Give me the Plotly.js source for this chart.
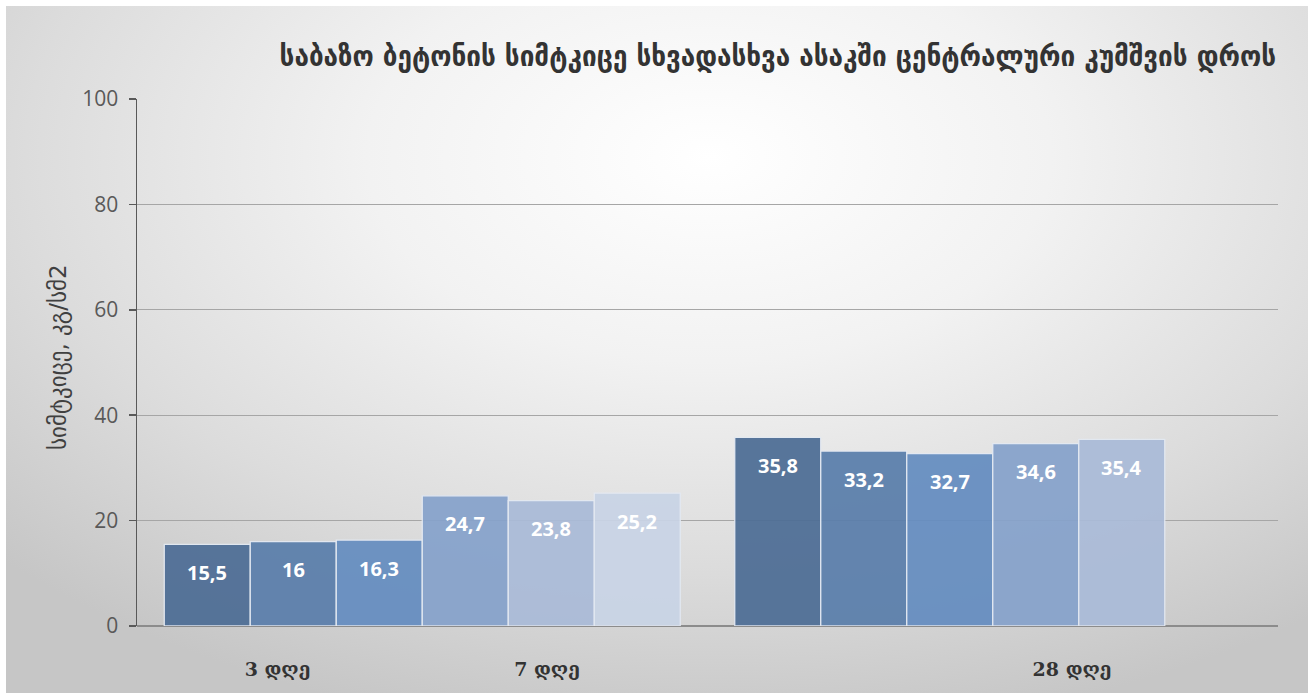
<!DOCTYPE html>
<html>
<head>
<meta charset="utf-8">
<script src="https://cdn.plot.ly/plotly-3.0.1.min.js"></script>
<style>
  html, body { margin: 0; padding: 0; background: #ffffff; }
  #bg {
    position: absolute; left: 6px; top: 6px; width: 1302px; height: 687px;
    background: radial-gradient(ellipse 75% 85% at 54% 22%, #ffffff 0%, #f2f2f2 35%, #dcdcdc 70%, #c6c6c6 100%);
  }
  #chart { position: absolute; left: 0; top: 0; width: 1314px; height: 693px; }
</style>
</head>
<body>
<div id="bg"></div>
<div id="chart"></div>
<script>
// Data
const groups = [0, 1];
const series1 = [15.5, 35.8];
const series2 = [16, 33.2];
const series3 = [16.3, 32.7];
const series4 = [24.7, 34.6];
const series5 = [23.8, 35.4];
const series6 = [25.2, null];
const allSeries = [series1, series2, series3, series4, series5, series6];
const seriesColors = ['#4d6d95', '#5a7eab', '#658dc0', '#86a2cb', '#aabbd8', '#c9d4e6'];
const tickLabels = ['3 დღე', '7 დღე', '28 დღე'];
const tickPositions = [-0.2537, 0.2187, 1.139];
const yTicks = [0, 20, 40, 60, 80, 100];
const titleText = 'საბაზო ბეტონის სიმტკიცე სხვადასხვა ასაკში ცენტრალური კუმშვის დროს';
const yTitleText = 'სიმტკიცე, კგ/სმ2';

const BARGAP = 0.0955;
const nSeries = allSeries.length;
const slot = (1 - BARGAP) / nSeries;
const fmt = v => String(v).replace('.', ',');

const traces = allSeries.map((s, i) => ({
  type: 'bar',
  x: groups,
  y: s,
  marker: { color: seriesColors[i], opacity: 0.93, line: { color: '#e3e9f2', width: 1.3 } },
  hoverinfo: 'skip',
  showlegend: false
}));

// data labels placed inside the top of each bar
const labelAnns = [];
allSeries.forEach((s, i) => {
  s.forEach((v, j) => {
    if (v === null) return;
    labelAnns.push({
      x: groups[j] + (i - (nSeries - 1) / 2) * slot,
      y: v,
      xref: 'x', yref: 'y',
      text: fmt(v),
      showarrow: false,
      yanchor: 'middle', xanchor: 'center',
      yshift: -28,
      font: { family: 'Open Sans, Noto Sans, sans-serif', size: 20, color: '#ffffff', weight: 'bold' }
    });
  });
});

const layout = {
  width: 1314, height: 693,
  paper_bgcolor: 'rgba(0,0,0,0)',
  plot_bgcolor: 'rgba(0,0,0,0)',
  margin: { l: 137, r: 36, t: 99, b: 67 },
  barmode: 'group',
  bargap: BARGAP,
  bargroupgap: 0,
  title: {
    text: titleText,
    font: { family: 'DejaVu Sans Condensed, DejaVu Sans, sans-serif', size: 29, color: '#333333', weight: 'bold' },
    x: 1276 / 1314, xanchor: 'right', xref: 'container',
    y: 1 - 56 / 693, yanchor: 'middle', yref: 'container'
  },
  xaxis: {
    type: 'linear',
    range: [-0.5, 1.5],
    tickvals: tickPositions,
    ticktext: tickLabels,
    ticks: '',
    ticklabelstandoff: 30,
    showgrid: false,
    zeroline: false,
    showline: false,
    tickfont: { family: 'DejaVu Serif, serif', size: 19, color: '#333333', weight: 'bold' },
    fixedrange: true
  },
  yaxis: {
    range: [0, 100],
    tickvals: yTicks,
    ticks: 'outside',
    ticklen: 7,
    tickcolor: '#595959',
    tickwidth: 1.5,
    ticklabelstandoff: 6,
    showline: true,
    linecolor: '#595959',
    linewidth: 1.5,
    showgrid: true,
    gridcolor: '#a6a6a6',
    gridwidth: 1.3,
    zeroline: true,
    zerolinecolor: '#8c8c8c',
    zerolinewidth: 1.5,
    tickfont: { family: 'Open Sans, Noto Sans, sans-serif', size: 21, color: '#595959' },
    fixedrange: true
  },
  annotations: labelAnns.concat([{
    text: yTitleText,
    xref: 'paper', yref: 'paper',
    x: (58 - 137) / 1141, y: (626 - 357) / 527,
    xanchor: 'center', yanchor: 'middle',
    textangle: -90,
    showarrow: false,
    font: { family: 'DejaVu Sans, sans-serif', size: 23, color: '#404040' }
  }])
};

Plotly.newPlot('chart', traces, layout, { displayModeBar: false, staticPlot: true });
</script>
</body>
</html>
